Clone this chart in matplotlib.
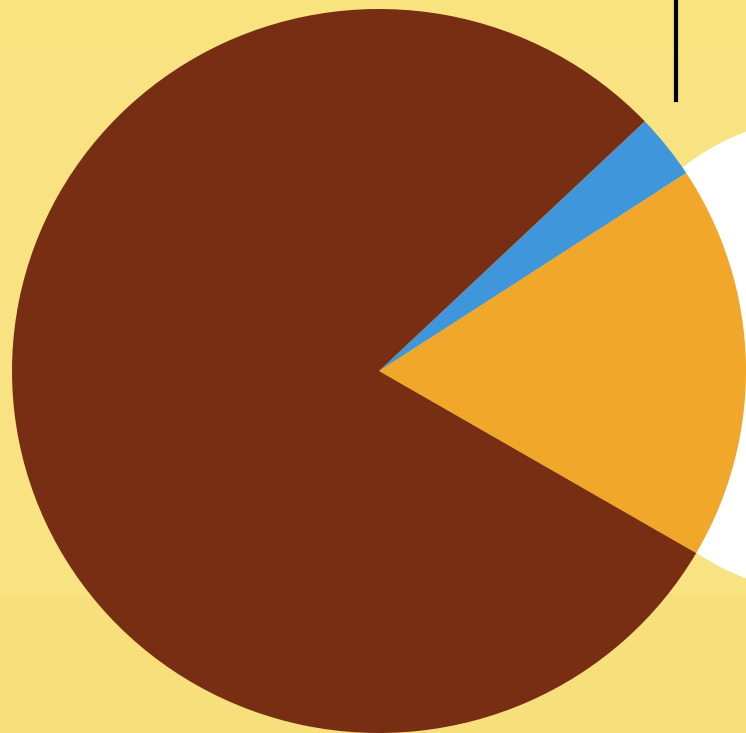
import matplotlib.pyplot as plt
from matplotlib.patches import Circle, Rectangle

# slice shares (percent)
labels = ['orange', 'blue', 'brown']
shares = [17.6, 2.9, 79.5]
colors = ['#F1A72A', '#3F96DA', '#772E12']

W, H = 746, 733
fig = plt.figure(figsize=(W / 100, H / 100), dpi=100)
ax = fig.add_axes([0, 0, 1, 1])
ax.set_xlim(0, W)
ax.set_ylim(0, H)
ax.axis('off')

bg = '#F7E07B'
fig.patch.set_facecolor(bg)
ax.add_patch(Rectangle((0, 0), W, H, color=bg, zorder=0))
ax.add_patch(Rectangle((0, H - 53), W, 53, color='#F8E37F', zorder=0.5))
ax.add_patch(Rectangle((0, 140), W, H - 193, color='#F8E281', zorder=0.5))

# white shape peeking behind the pie on the right
ax.add_patch(Circle((830, H - 355), 238, color='white', zorder=1))

# black tick at the top
ax.plot([676, 676], [H, H - 100], color='black', lw=3, zorder=2)

# pie in its own axes (slightly wider than tall, as in the picture)
cx, cy, rx, ry = 379, 371, 367, 362
pax = fig.add_axes([(cx - rx) / W, (H - cy - ry) / H, 2 * rx / W, 2 * ry / H])
pax.pie(shares, colors=colors, startangle=-30.2, counterclock=True,
        radius=1, wedgeprops=dict(linewidth=0))
pax.set_aspect('auto')
pax.set_xlim(-1, 1)
pax.set_ylim(-1, 1)
pax.axis('off')

fig.savefig('out.png', dpi=100, facecolor=bg)
